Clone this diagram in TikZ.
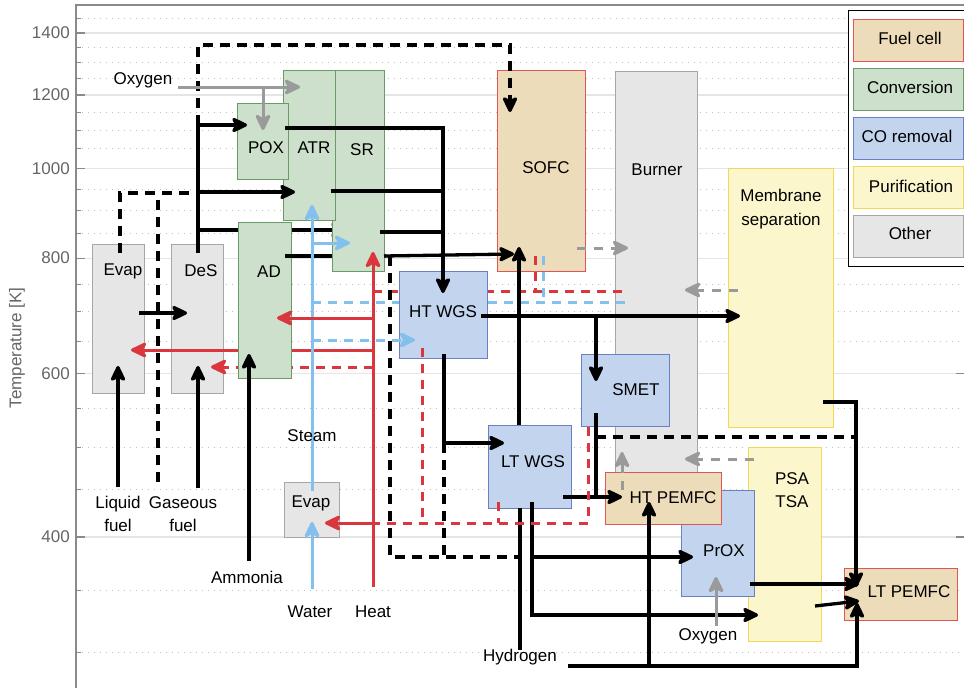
\documentclass[tikz,border=0pt]{standalone}
\usepackage{fontspec}
\setmainfont{Liberation Sans}
\usetikzlibrary{arrows.meta}
\definecolor{gfill}{HTML}{CCE0CB}
\definecolor{gdraw}{HTML}{6A9A66}
\definecolor{bfill}{HTML}{C3D5EE}
\definecolor{bdraw}{HTML}{6C7FC4}
\definecolor{tfill}{HTML}{EDDCB9}
\definecolor{tdraw}{HTML}{E05555}
\definecolor{yfill}{HTML}{FCF6CD}
\definecolor{ydraw}{HTML}{F1D85A}
\definecolor{ofill}{HTML}{E6E6E6}
\definecolor{odraw}{HTML}{A6A6A6}
\definecolor{lblue}{HTML}{83C0EE}
\definecolor{lred}{HTML}{D9363E}
\definecolor{lgray}{HTML}{9A9A9A}
\definecolor{tickc}{HTML}{666666}
\definecolor{axc}{HTML}{8A8A8A}
\newcommand\boxat[6]{%
  \node[#1, minimum width={(#5)-(#3)}, minimum height={(#6)-(#4)}] (#2) at ({((#3)+(#5))/2},{((#4)+(#6))/2}) {};}
\tikzset{
  every node/.style={font=\fontsize{17}{23.5}\selectfont, inner sep=0pt},
  bx/.style={draw, line width=1pt, inner sep=0pt, outer sep=0pt},
  conv/.style={bx, fill=gfill, draw=gdraw},
  cor/.style={bx, fill=bfill, draw=bdraw},
  fc/.style={bx, fill=tfill, draw=tdraw},
  pur/.style={bx, fill=yfill, draw=ydraw},
  oth/.style={bx, fill=ofill, draw=odraw},
  arr/.style={-{Stealth[length=19pt,width=18pt,inset=5pt,round]}},
  blk/.style={line width=3.3pt, draw=black},
  bdash/.style={blk, dash pattern=on 10pt off 7pt},
  red/.style={line width=3pt, draw=lred},
  rdash/.style={red, dash pattern=on 9pt off 7pt},
  blu/.style={line width=3pt, draw=lblue},
  bldash/.style={blu, dash pattern=on 9pt off 7pt},
  gry/.style={line width=3pt, draw=lgray},
  gdash/.style={gry, dash pattern=on 9pt off 8pt},
  minor/.style={draw=black!25, line width=0.8pt, dash pattern=on 1pt off 5pt},
  major/.style={draw=black!10, line width=1.2pt},
}
\begin{document}
\begin{tikzpicture}[x=1pt,y=-1pt]
\useasboundingbox (0,0) rectangle (964,688);
\fill[white] (0,0) rectangle (964,688);
% ---------- grid and axis ----------
\foreach \T in {300,350,450,500,550,650,700,750,850,900,950,1050,1100,1150,1250,1300,1350,1450}{
  \pgfmathsetmacro\yy{33+402.3*(ln(1400)-ln(\T))}
  \draw[minor] (76,\yy) -- (964,\yy);
  \draw[draw=axc, line width=1pt] (76,\yy) -- (81,\yy);
}
\foreach \T in {400,600,800,1000,1200,1400}{
  \pgfmathsetmacro\yy{33+402.3*(ln(1400)-ln(\T))}
  \draw[major] (76,\yy) -- (964,\yy);
  \draw[draw=axc, line width=1.2pt] (76,\yy) -- (85,\yy);
  \draw[draw=axc, line width=1.2pt] (956,\yy) -- (964,\yy);
  \node[anchor=east, text=tickc] (tick\T) at (70,\yy) {\T};
}
\draw[draw=axc, line width=1.3pt] (76,688) -- (76,5) -- (964,5);
\node[rotate=90, text=tickc] (ylab) at (17,348) {Temperature [K]};

% ---------- back boxes ----------
\boxat{oth}{burner}{615}{71}{697}{500}
\boxat{oth}{evapL}{92}{244}{144}{393}
\boxat{oth}{des}{171}{244}{223}{393}

% ---------- lines beneath boxes ----------
\draw[blk, arr] (198,230) -- (346,230);
\draw[red, arr] (373,350) -- (131,350);
\draw[rdash, arr] (373,367) -- (211,367);
\draw[rdash] (373,291) -- (623,291);
\draw[bldash] (312,302) -- (625,302);

\boxat{conv}{ad}{238}{222}{291}{378}
\draw[blk] (285,256) -- (386,256);
\boxat{conv}{sr}{332}{70}{384}{271}
\boxat{conv}{atr}{283}{70}{335}{220}
\boxat{conv}{pox}{237}{103}{288}{179}
\boxat{fc}{sofc}{497}{70}{585}{271}
\boxat{pur}{memb}{728}{168}{833}{427}
\boxat{cor}{htwgs}{399}{271}{487}{358}
\boxat{cor}{ltwgs}{488}{425}{571}{508}
\boxat{cor}{smet}{581}{354}{669}{426}
\boxat{pur}{psa}{748}{447}{821}{641}
\boxat{cor}{prox}{681}{490}{754}{596}
\boxat{fc}{htpem}{605}{472}{721}{524}
\boxat{fc}{ltpem}{844}{568}{957}{620}
\boxat{oth}{evapB}{284}{482}{339}{537}

% ---------- black solid connectors ----------
\draw[blk, arr] (118,487) -- (118,366);
\draw[blk, arr] (198,488) -- (198,366);
\draw[blk, arr] (249,561) -- (249,354);
\draw[blk, arr] (139,313) -- (187,313);
\draw[blk, arr] (198,253) -- (198,125) -- (247,125);
\draw[blk, arr] (198,192) -- (295,192);
\draw[blk, arr] (384,256) -- (514,254);
\draw[blk, arr] (285,128) -- (443,128) -- (443,293);
\draw[blk] (331,191) -- (443,191);
\draw[blk] (380,232) -- (443,232);
\draw[blk, arr] (481,316) -- (740,316);
\draw[blk, arr] (596,316) -- (596,381);
\draw[blk, arr] (444,354) -- (444,443) -- (504,443);
\draw[blk, arr] (519,425) -- (519,247);
\draw[blk, arr] (563,497) -- (622,497);
\draw[blk] (596,413) -- (596,497);
\draw[blk] (520,508) -- (520,650);
\draw[blk, arr] (532,502) -- (532,615) -- (758,615);
\draw[blk, arr] (532,557) -- (693,557);
\draw[blk, arr] (568,666) -- (857,666) -- (857,603);
\draw[blk, arr] (649,666) -- (649,502);
\draw[blk, arr] (823,402) -- (856,402) -- (856,587);
\draw[blk, arr] (750,584) -- (859,584);
\draw[blk, arr] (815,606) -- (859,601);

% ---------- black dashed ----------
\draw[bdash, arr] (198,125) -- (198,45) -- (510,45) -- (510,112);
\draw[bdash] (120,253) -- (120,193) -- (198,193);
\draw[bdash] (158,482) -- (158,193);
\draw[bdash] (390,256) -- (390,557) -- (520,557);
\draw[bdash] (444,443) -- (444,557);
\draw[bdash] (596,437) -- (857,437);

% ---------- gray ----------
\draw[gry, arr] (178,87) -- (300,87);
\draw[gry, arr] (263,87) -- (263,130);
\draw[gdash, arr] (577,248) -- (628,248);
\draw[gdash, arr] (738,290) -- (685,290);
\draw[gdash, arr] (754,459) -- (685,459);
\draw[gdash, arr] (622,490) -- (622,452);
\draw[gry, arr] (716,626) -- (716,577);

% ---------- blue ----------
\draw[blu, arr] (312,589) -- (312,522);
\draw[blu, arr] (312,491) -- (312,205);
\draw[blu, arr] (312,243) -- (350,243);
\draw[bldash] (543,256) -- (543,302);
\draw[bldash, arr] (312,340) -- (415,340);

% ---------- red ----------
\draw[red, arr] (373,587) -- (373,252);
\draw[red, arr] (373,318) -- (277,318);
\draw[rdash] (535,256) -- (535,291);
\draw[rdash] (422,348) -- (422,523);
\draw[rdash] (498,502) -- (498,523);
\draw[rdash] (588,427) -- (588,523) -- (373,523);
\draw[red, arr] (373,523) -- (325,523);

% ---------- box texts ----------
\node (tevapL) at (123,271) {Evap};
\node (tdes) at (201,271) {DeS};
\node (tad) at (269,272) {AD};
\node (tpox) at (266,148) {POX};
\node (tatr) at (314,148) {ATR};
\node (tsr) at (362,150) {SR};
\node (tsofc) at (546,168) {SOFC};
\node (tburner) at (657,170) {Burner};
\node[align=center] (tmemb) at (781,209) {Membrane\\separation};
\node (thtwgs) at (443,312) {HT WGS};
\node (tltwgs) at (533,462) {LT WGS};
\node (tsmet) at (636,390) {SMET};
\node (thtpem) at (673,498) {HT PEMFC};
\node (tprox) at (724,551) {PrOX};
\node[align=center] (tpsa) at (792,490) {PSA\\TSA};
\node (tltpem) at (909,592) {LT PEMFC};
\node (tevapB) at (311,503) {Evap};

% ---------- free labels ----------
\node (lox1) at (143,80) {Oxygen};
\node[align=center] (lliq) at (118,514) {Liquid\\fuel};
\node[align=center] (lgas) at (183,514) {Gaseous\\fuel};
\node (lamm) at (247,577) {Ammonia};
\node (lsteam) at (312,436) {Steam};
\node (lwater) at (310,612) {Water};
\node (lheat) at (373,612) {Heat};
\node (lhyd) at (520,657) {Hydrogen};
\node (lox2) at (708,636) {Oxygen};

% ---------- legend ----------
\draw[fill=white, draw=black, line width=1pt] (848,10) rectangle (966,266);
\boxat{fc}{lg1}{853}{19}{963}{61}
\boxat{conv}{lg2}{853}{68}{963}{110}
\boxat{cor}{lg3}{853}{117}{963}{159}
\boxat{pur}{lg4}{853}{166}{963}{208}
\boxat{oth}{lg5}{853}{215}{963}{257}
\node (lt1) at (910,38) {Fuel cell};
\node (lt2) at (910,87) {Conversion};
\node (lt3) at (907,136) {CO removal};
\node (lt4) at (911,186) {Purification};
\node (lt5) at (910,233) {Other};
\end{tikzpicture}
\end{document}
